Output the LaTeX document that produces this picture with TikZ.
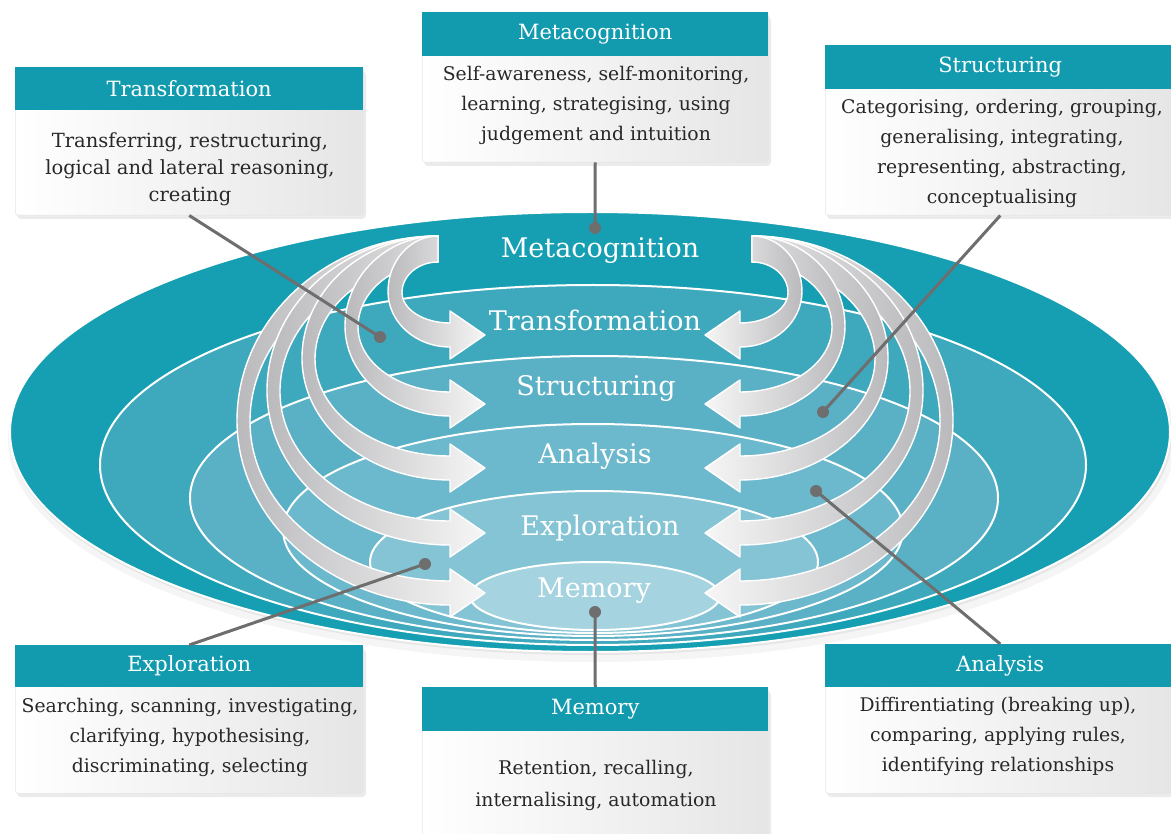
\documentclass[tikz,border=0pt]{standalone}
\usepackage{fontspec}
\setmainfont{DejaVu Serif}
\definecolor{cA}{RGB}{22,159,178}
\definecolor{cB}{RGB}{62,168,188}
\definecolor{cC}{RGB}{90,176,197}
\definecolor{cD}{RGB}{108,184,204}
\definecolor{cE}{RGB}{132,196,213}
\definecolor{cF}{RGB}{165,211,223}
\definecolor{tealhead}{RGB}{18,155,174}
\definecolor{connc}{RGB}{110,110,110}
\definecolor{ribgray}{RGB}{186,186,189}
\definecolor{ribwhite}{RGB}{246,246,246}
\definecolor{txtc}{RGB}{40,40,40}
\newcommand{\ribbon}[5]{%
 \pgfmathsetmacro\rbLo{#2+12}%
 \pgfmathsetmacro\rbUp{#2-12}%
 \pgfmathsetmacro\rbMo{(236+\rbLo)/2}%
 \pgfmathsetmacro\rbMi{(262+\rbUp)/2}%
 \pgfmathsetmacro\rbDi{#3-#4}%
 \pgfmathsetmacro\rbXa{595+(#1)*157}%
 \pgfmathsetmacro\rbXb{595+(#1)*(157+0.552*(#3-157))}%
 \pgfmathsetmacro\rbXo{595+(#1)*#3}%
 \pgfmathsetmacro\rbXc{595+(#1)*(145+0.552*(#3-145))}%
 \pgfmathsetmacro\rbXs{595+(#1)*145}%
 \pgfmathsetmacro\rbXt{595+(#1)*110}%
 \pgfmathsetmacro\rbXi{595+(#1)*\rbDi}%
 \pgfmathsetmacro\rbXd{595+(#1)*(145+0.552*(\rbDi-145))}%
 \pgfmathsetmacro\rbXe{595+(#1)*(157+0.552*(\rbDi-157))}%
 \pgfmathsetmacro\rbYa{\rbMo-0.552*(\rbMo-236)}%
 \pgfmathsetmacro\rbYb{\rbMo+0.552*(\rbLo-\rbMo)}%
 \pgfmathsetmacro\rbYc{\rbMi+0.552*(\rbUp-\rbMi)}%
 \pgfmathsetmacro\rbYd{\rbMi-0.552*(\rbMi-262)}%
 \pgfmathsetmacro\rbHa{#2+24}%
 \pgfmathsetmacro\rbHb{#2-24}%
 \path[ribbonstyle,#5] (\rbXa,236) .. controls (\rbXb,236) and (\rbXo,\rbYa) .. (\rbXo,\rbMo)
   .. controls (\rbXo,\rbYb) and (\rbXc,\rbLo) .. (\rbXs,\rbLo)
   -- (\rbXs,\rbHa) -- (\rbXt,#2) -- (\rbXs,\rbHb) -- (\rbXs,\rbUp)
   .. controls (\rbXd,\rbUp) and (\rbXi,\rbYc) .. (\rbXi,\rbMi)
   .. controls (\rbXi,\rbYd) and (\rbXe,262) .. (\rbXa,262) -- cycle;
}
\begin{document}
\begin{tikzpicture}[x=1pt,y=-1pt,
  ell/.style={draw=white,line width=2},
  ribbonstyle/.style={draw=white,line width=1.4,line join=round},
  ribL/.style={left color=ribgray,right color=ribwhite},
  ribR/.style={left color=ribwhite,right color=ribgray},
  biglabel/.style={text=white,font=\fontsize{27}{30}\selectfont,inner sep=0},
  boxbody/.style={rounded corners=3,left color=white,right color=black!10,draw=black!10,line width=0.5,anchor=north west,inner sep=0},
  boxhead/.style={fill=tealhead,text=white,font=\fontsize{21}{24}\selectfont,anchor=north west,inner sep=0},
  boxtext/.style={align=center,text=txtc,font=\fontsize{18.8}{30}\selectfont,inner sep=0},
  boxshadow/.style={fill=black,opacity=0.08,rounded corners=4},
  conn/.style={draw=connc,line width=3},
  conndot/.style={fill=connc}]
\useasboundingbox (0,0) rectangle (1171,834);
\clip (0,0) rectangle (1171,834);
\fill[white] (0,0) rectangle (1171,834);

% ellipse shadow
\fill[black,opacity=0.04] (592,440) ellipse [x radius=584,y radius=222];
\fill[black,opacity=0.06] (591,435) ellipse [x radius=581,y radius=220];

% nested ellipses
\filldraw[ell,fill=cA] (590,432) ellipse [x radius=580,y radius=220];
\filldraw[ell,fill=cB] (593,465) ellipse [x radius=493,y radius=180];
\filldraw[ell,fill=cC] (594,498) ellipse [x radius=404,y radius=142];
\filldraw[ell,fill=cD] (593,530) ellipse [x radius=310,y radius=106];
\filldraw[ell,fill=cE] (594,562) ellipse [x radius=224,y radius=71];
\filldraw[ell,fill=cF] (595,596) ellipse [x radius=125,y radius=34];

% ribbons, left side
\ribbon{-1}{593}{358}{13}{ribL}
\ribbon{-1}{533}{328}{13}{ribL}
\ribbon{-1}{468}{293}{13}{ribL}
\ribbon{-1}{404}{250}{13}{ribL}
\ribbon{-1}{335}{207}{14}{ribL}
% ribbons, right side
\ribbon{1}{593}{358}{13}{ribR}
\ribbon{1}{533}{328}{13}{ribR}
\ribbon{1}{468}{293}{13}{ribR}
\ribbon{1}{404}{250}{13}{ribR}
\ribbon{1}{335}{207}{14}{ribR}

% labels
\node[biglabel] (lmeta) at (600,251) {Metacognition};
\node[biglabel] (ltrans) at (595,320) {Transformation};
\node[biglabel] (lstruct) at (596,388) {Structuring};
\node[biglabel] (lanal) at (595,456) {Analysis};
\node[biglabel] (lexpl) at (600,528) {Exploration};
\node[biglabel] (lmem) at (594,591) {Memory};

% box shadows
\fill[boxshadow] (17,71) rectangle (366,219);
\fill[boxshadow] (424,16) rectangle (771,166);
\fill[boxshadow] (827,49) rectangle (1178,219);
\fill[boxshadow] (17,649) rectangle (366,797);
\fill[boxshadow] (424,691) rectangle (771,850);
\fill[boxshadow] (827,648) rectangle (1178,797);

% boxes
\node[boxbody,minimum width=348,minimum height=148] (tbody) at (15,67) {};
\node[boxhead,minimum width=348,minimum height=43] (thead) at (15,67) {Transformation};
\node[boxtext,font=\fontsize{19.5}{27}\selectfont] (ttext) at (190,169) {Transferring, restructuring,\\logical and lateral reasoning,\\creating};

\node[boxbody,minimum width=346,minimum height=150] (mbody) at (422,12) {};
\node[boxhead,minimum width=346,minimum height=44] (mhead) at (422,12) {Metacognition};
\node[boxtext] (mtext) at (596,105) {Self-awareness, self-monitoring,\\learning, strategising, using\\judgement and intuition};

\node[boxbody,minimum width=350,minimum height=170] (sbody) at (825,45) {};
\node[boxhead,minimum width=350,minimum height=44] (shead) at (825,45) {Structuring};
\node[boxtext] (stext) at (1002,153) {Categorising, ordering, grouping,\\generalising, integrating,\\representing, abstracting,\\conceptualising};

\node[boxbody,minimum width=348,minimum height=148] (ebody) at (15,645) {};
\node[boxhead,minimum width=348,minimum height=42] (ehead) at (15,645) {Exploration};
\node[boxtext] (etext) at (190,737) {Searching, scanning, investigating,\\clarifying, hypothesising,\\discriminating, selecting};

\node[boxbody,minimum width=346,minimum height=160] (rbody) at (422,687) {};
\node[boxhead,minimum width=346,minimum height=44] (rhead) at (422,687) {Memory};
\node[boxtext,font=\fontsize{18.8}{32}\selectfont] (rtext) at (596,785) {Retention, recalling,\\internalising, automation};

\node[boxbody,minimum width=350,minimum height=149] (abody) at (825,644) {};
\node[boxhead,minimum width=350,minimum height=43] (ahead) at (825,644) {Analysis};
\node[boxtext] (atext) at (998,736) {Diffirentiating (breaking up),\\comparing, applying rules,\\identifying relationships};

% connectors
\coordinate (dT) at (380,337);
\coordinate (dM) at (595,228);
\coordinate (dS) at (823,412);
\coordinate (dE) at (425,564);
\coordinate (dR) at (595,612);
\coordinate (dA) at (816,491);
\draw[conn] (dT) -- (tbody.south);
\draw[conn] (dM) -- (mbody.south);
\draw[conn] (dS) -- (sbody.south);
\draw[conn] (dE) -- (ebody.north);
\draw[conn] (dR) -- (rbody.north);
\draw[conn] (dA) -- (abody.north);
\fill[conndot] (dT) circle [radius=6];
\fill[conndot] (dM) circle [radius=6];
\fill[conndot] (dS) circle [radius=6];
\fill[conndot] (dE) circle [radius=6];
\fill[conndot] (dR) circle [radius=6];
\fill[conndot] (dA) circle [radius=6];
\end{tikzpicture}
\end{document}
